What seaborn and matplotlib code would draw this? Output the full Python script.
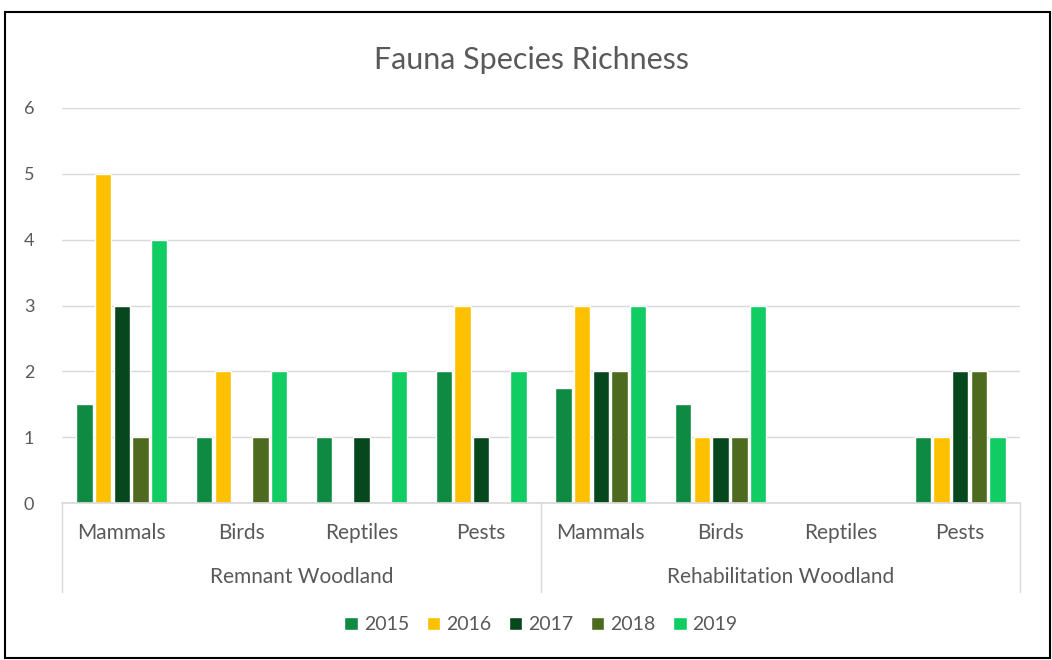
import pandas as pd
import numpy as np
import matplotlib.pyplot as plt
import seaborn as sns
from matplotlib.patches import Rectangle

# Values
sites = ['Remnant Woodland', 'Rehabilitation Woodland']
groups = ['Mammals', 'Birds', 'Reptiles', 'Pests']
years = ['2015', '2016', '2017', '2018', '2019']

remnant = {
    '2015': [1.5, 1, 1, 2],
    '2016': [5, 2, 0, 3],
    '2017': [3, 0, 1, 1],
    '2018': [1, 1, 0, 0],
    '2019': [4, 2, 2, 2],
}
rehab = {
    '2015': [1.75, 1.5, 0, 1],
    '2016': [3, 1, 0, 1],
    '2017': [2, 1, 0, 2],
    '2018': [2, 1, 0, 2],
    '2019': [3, 3, 0, 1],
}
colors = ['#0E8A43', '#FFC000', '#07471E', '#4E6A1F', '#10CC62']

rows = []
for site, table in zip(sites, [remnant, rehab]):
    for i, g in enumerate(groups):
        for y in years:
            rows.append({'slot': site + '|' + g, 'Year': y, 'Richness': table[y][i]})
df = pd.DataFrame(rows)
order = [s + '|' + g for s in sites for g in groups]

sns.set_theme(style='white')
plt.rcParams['font.family'] = ['Lato', 'DejaVu Sans']
txt = '#595959'

fig = plt.figure(figsize=(10.52, 6.6), dpi=100)
ax = fig.add_axes([62 / 1052, 1 - 503 / 660, (1020 - 62) / 1052, (503 - 108) / 660])

sns.barplot(data=df, x='slot', y='Richness', hue='Year', order=order,
            hue_order=years, palette=colors, width=0.78, gap=0.12,
            saturation=1, ax=ax, legend=True)

ax.set_ylim(0, 6)
ax.set_yticks(range(7))
ax.yaxis.grid(True, color='#D9D9D9', linewidth=1)
ax.set_axisbelow(True)
for s in ['top', 'right', 'left']:
    ax.spines[s].set_visible(False)
ax.spines['bottom'].set_color('#D9D9D9')
ax.tick_params(axis='y', length=0, labelsize=13, labelcolor=txt, pad=20)
ax.set_xticks([])
ax.set_xlabel('')
ax.set_ylabel('')

# category and site labels below the axis
for i, slot in enumerate(order):
    ax.text(i, -0.46, slot.split('|')[1], ha='center', va='center',
            fontsize=15, color=txt, clip_on=False)
for j, site in enumerate(sites):
    ax.text(j * 4 + 1.5, -1.12, site, ha='center', va='center',
            fontsize=15, color=txt, clip_on=False)
for xpos in [-0.5, 3.5, 7.5]:
    ax.plot([xpos, xpos], [0, -1.35], color='#D9D9D9', linewidth=1, clip_on=False)

ax.set_xlim(-0.5, 7.5)

leg = ax.legend(loc='center', bbox_to_anchor=(0.5, -0.308), ncol=5, frameon=False,
                fontsize=14, handlelength=0.7, handleheight=0.7,
                handletextpad=0.3, columnspacing=0.9)
for t in leg.get_texts():
    t.set_color(txt)

fig.text(531 / 1052, 1 - 60 / 660, 'Fauna Species Richness', ha='center', va='center',
         fontsize=22, color=txt)

# outer frame
fig.patches.append(Rectangle((5 / 1052, 2 / 660), 1045 / 1052, 646 / 660,
                             transform=fig.transFigure, fill=False,
                             edgecolor='black', linewidth=1.5))

fig.savefig('out.png', dpi=100)
